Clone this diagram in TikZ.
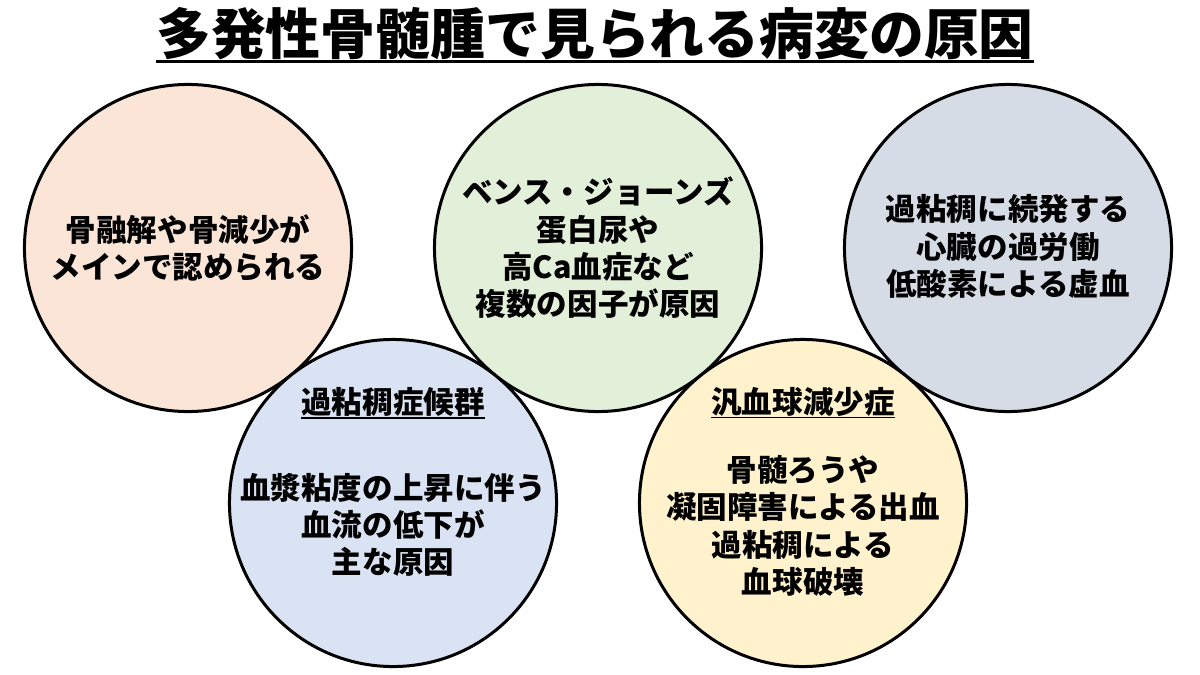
\documentclass[tikz,border=0pt]{standalone}
\usepackage{fontspec}
\setmainfont{Noto Sans CJK JP}
\usetikzlibrary{positioning}

% underlined heading inside a bubble
\newcommand{\ulhead}[1]{\setbox0\hbox{#1}\rlap{\rule[-3.4pt]{\wd0}{1.2pt}}\box0}

\definecolor{peach}{HTML}{FBE5D6}
\definecolor{leaf}{HTML}{E2F0D9}
\definecolor{slate}{HTML}{D6DCE5}
\definecolor{sky}{HTML}{DAE3F3}
\definecolor{cream}{HTML}{FFF2CC}

\begin{document}
\begin{tikzpicture}[
    x=0.025cm, y=-0.025cm,
    bubble/.style={circle, draw, line width=0.075cm, minimum size=8.175cm, inner sep=0pt},
    body/.style={align=center, inner sep=0pt, font=\bfseries\fontsize{21.7}{26.5}\selectfont},
    heading/.style={inner sep=0pt, font=\bfseries\fontsize{39}{47}\selectfont}
]
\useasboundingbox (0,0) rectangle (1200,675);

% Title
\node[heading] (title) at (595,34) {多発性骨髄腫で見られる病変の原因};
\draw[line width=0.075cm] (title.west |- 0,62) -- (title.east |- 0,62);

% Bubbles
\node[bubble, fill=peach] (bone) at (188,248) {};
\node[bubble, fill=leaf] (kidney) at (598,248) {};
\node[bubble, fill=slate] (heart) at (1008,248) {};
\node[bubble, fill=sky] (visc) at (393,503) {};
\node[bubble, fill=cream] (pancy) at (803,503) {};

% Texts
\node[body] (bonetxt) at (bone) {骨融解や骨減少が\\メインで認められる};
\node[body] (kidneytxt) at (kidney) {ベンス・ジョーンズ\\蛋白尿や\\高Ca血症など\\複数の因子が原因};
\node[body, yshift=0.04cm] (hearttxt) at (heart) {過粘稠に続発する\\心臓の過労働\\低酸素による虚血};
\node[body, yshift=0.52cm] (visctxt) at (visc) {\ulhead{過粘稠症候群}\\[1.2cm]血漿粘度の上昇に伴う\\血流の低下が\\主な原因};
\node[body, yshift=0.28cm] (pancytxt) at (pancy) {\ulhead{汎血球減少症}\\[0.77cm]骨髄ろうや\\凝固障害による出血\\過粘稠による\\血球破壊};

\end{tikzpicture}
\end{document}
